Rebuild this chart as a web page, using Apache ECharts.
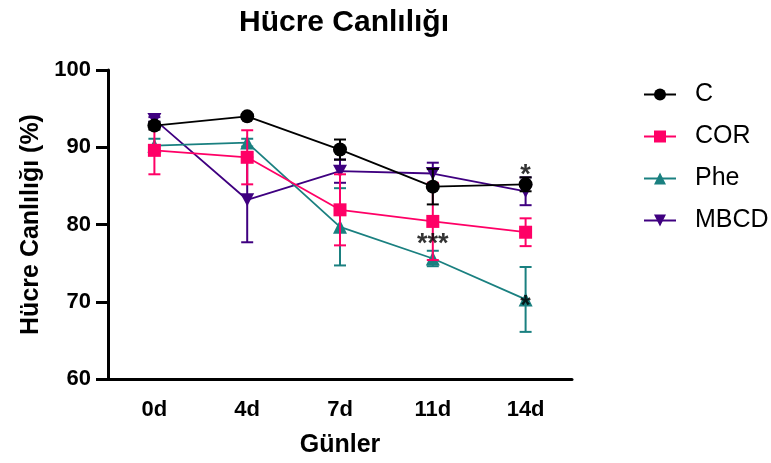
<!DOCTYPE html>
<html>
<head>
<meta charset="utf-8">
<script src="https://cdn.jsdelivr.net/npm/echarts@6/dist/echarts.min.js"></script>
<style>html,body{margin:0;padding:0;background:#fff}#c{width:771px;height:463px}</style>
</head>
<body>
<div id="c"></div>
<script>
// ---- data ----
var categories = ['0d', '4d', '7d', '11d', '14d'];
var groupNames = ['C', 'COR', 'Phe', 'MBCD'];
var valC    = [92.8, 94.0, 89.7, 84.9, 85.2];
var sdC     = [0.5, 0.3, 1.3, 2.3, 0.9];
var valCOR  = [89.6, 88.7, 81.9, 80.4, 79.0];
var sdCOR   = [3.1, 3.5, 4.6, 5.0, 1.8];
var valPhe  = [90.2, 90.6, 79.7, 75.6, 70.3];
var sdPhe   = [0.9, 0.5, 5.0, 1.0, 4.2];
var valMBCD = [93.6, 83.2, 86.9, 86.6, 84.3];
var sdMBCD  = [0.3, 5.5, 1.5, 1.4, 1.8];
var yTicks  = [60, 70, 80, 90, 100];
// significance marks: [category, y value, text]
var sigMarks = [['11d', 77.4, '***'], ['14d', 86.4, '*'], ['14d', 69.4, '*']];

var FONT = "'Liberation Sans', Arial, Helvetica, sans-serif";
var groups = [
  {name: 'C',    val: valC,    sd: sdC,    color: '#000000', symbol: 'circle',   size: 14, z: 8},
  {name: 'COR',  val: valCOR,  sd: sdCOR,  color: '#FF0066', symbol: 'rect',     size: 13, z: 6},
  {name: 'Phe',  val: valPhe,  sd: sdPhe,  color: '#1A8080', symbol: 'triangle', size: 14, z: 4},
  {name: 'MBCD', val: valMBCD, sd: sdMBCD, color: '#3F0080', symbol: 'path://M0,0 L10,0 L5,9 Z', size: [14, 13], z: 2}
];

var series = [];
groups.forEach(function (g) {
  var errData = g.val.map(function (v, i) { return [i, v - g.sd[i], v + g.sd[i]]; });
  series.push({
    type: 'custom',
    name: g.name + '_err',
    z: g.z,
    silent: true,
    data: errData,
    renderItem: function (params, api) {
      var x = api.value(0);
      var lo = api.coord([x, api.value(1)]);
      var hi = api.coord([x, api.value(2)]);
      var hw = 6;
      var st = {stroke: g.color, lineWidth: 2};
      return {
        type: 'group',
        children: [
          {type: 'line', shape: {x1: lo[0], y1: lo[1], x2: hi[0], y2: hi[1]}, style: st},
          {type: 'line', shape: {x1: lo[0] - hw, y1: lo[1], x2: lo[0] + hw, y2: lo[1]}, style: st},
          {type: 'line', shape: {x1: hi[0] - hw, y1: hi[1], x2: hi[0] + hw, y2: hi[1]}, style: st}
        ]
      };
    }
  });
  series.push({
    type: 'line',
    name: g.name,
    z: g.z + 1,
    data: g.val,
    symbol: g.symbol,
    symbolSize: g.size,
    showAllSymbol: true,
    lineStyle: {color: g.color, width: 1.8},
    itemStyle: {color: g.color, borderWidth: 0},
    emphasis: {disabled: true}
  });
});

series.push({
  type: 'scatter',
  name: 'sig',
  z: 20,
  symbolSize: 0,
  silent: true,
  data: sigMarks.map(function (m) { return {value: [m[0], m[1]], text: m[2]}; }),
  label: {
    show: true,
    position: 'inside',
    formatter: function (p) { return p.data.text; },
    color: '#000',
    fontFamily: FONT,
    fontWeight: 'bold',
    fontSize: 27
  }
});

var chart = echarts.init(document.getElementById('c'), null, {renderer: 'canvas'});
chart.setOption({
  animation: false,
  backgroundColor: '#ffffff',
  title: {
    text: 'Hücre Canlılığı',
    left: 339,
    textAlign: 'center',
    top: 3,
    textStyle: {fontFamily: FONT, fontWeight: 'bold', fontSize: 30, color: '#000'}
  },
  grid: {left: 108, right: 199, top: 70, bottom: 83, containLabel: false},
  legend: {
    orient: 'vertical',
    left: 638,
    top: 77,
    itemWidth: 32,
    itemHeight: 15,
    itemGap: 17,
    data: groupNames,
    textStyle: {fontFamily: FONT, fontSize: 25, color: '#000', padding: [0, 0, 0, 14]}
  },
  xAxis: {
    type: 'category',
    data: categories,
    boundaryGap: true,
    name: 'Günler',
    nameLocation: 'middle',
    nameGap: 54,
    nameTextStyle: {fontFamily: FONT, fontWeight: 'bold', fontSize: 25, color: '#000'},
    axisLine: {lineStyle: {color: '#000', width: 3}},
    axisTick: {alignWithLabel: true, length: 12, lineStyle: {color: '#000', width: 3}},
    axisLabel: {margin: 20, fontFamily: FONT, fontWeight: 'bold', fontSize: 22, color: '#000'},
    splitLine: {show: false}
  },
  yAxis: {
    type: 'value',
    min: yTicks[0],
    max: yTicks[yTicks.length - 1],
    interval: 10,
    name: 'Hücre Canlılığı (%)',
    nameLocation: 'middle',
    nameGap: 63,
    nameTextStyle: {fontFamily: FONT, fontWeight: 'bold', fontSize: 25, color: '#000'},
    axisLine: {show: true, lineStyle: {color: '#000', width: 3}},
    axisTick: {show: true, length: 12, lineStyle: {color: '#000', width: 3}},
    axisLabel: {margin: 17, fontFamily: FONT, fontWeight: 'bold', fontSize: 22, color: '#000'},
    splitLine: {show: false}
  },
  series: series
});
</script>
</body>
</html>
